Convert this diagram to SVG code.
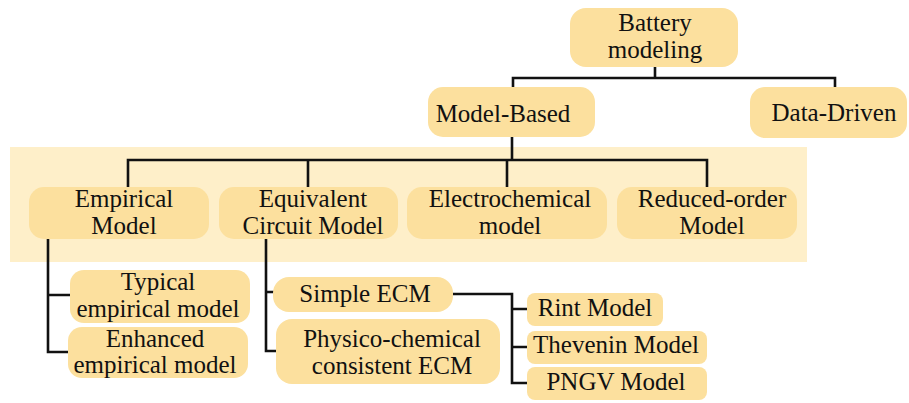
<svg xmlns="http://www.w3.org/2000/svg" width="909" height="403" viewBox="0 0 909 403">
  <style>
    .box { fill: #FCE09E; }
    .band { fill: #FEEFC9; }
    text { font-size: 25px; fill: #111; }
    .wire { fill: none; stroke: #111; stroke-width: 2.6; stroke-linejoin: miter; stroke-linecap: square; }
  </style>

  <!-- shaded band behind the model-based sub-categories -->
  <rect class="band" x="10" y="147" width="797" height="115"/>

  <!-- connectors -->
  <g id="connectors">
    <path class="wire" d="M655 67 V78 M513 87 V78 H835 V87"/>
    <path class="wire" d="M512 137 V160 M128 188 V160 H707 V188 M308 160 V188 M507 160 V188"/>
    <path class="wire" d="M48 239 V352 H68 M48 295 H70"/>
    <path class="wire" d="M266 239 V351 H276 M266 292 H273"/>
    <path class="wire" d="M453 294 H512 V383 H527 M512 309 H527 M512 347 H527"/>
  </g>

  <g text-anchor="middle">
  <g id="battery-modeling">
    <rect class="box" x="570" y="8" width="168" height="59" rx="16"/>
    <text x="655" y="31" style="font-family: 'Liberation Serif'">Battery</text>
    <text x="655" y="58" style="font-family: 'Liberation Serif'">modeling</text>
  </g>

  <g id="model-based">
    <rect class="box" x="428" y="87" width="167" height="50" rx="15"/>
    <text x="503" y="122" style="font-family: 'Liberation Serif'">Model-Based</text>
  </g>

  <g id="data-driven">
    <rect class="box" x="750" y="87" width="157" height="51" rx="15"/>
    <text x="834" y="121" style="font-family: 'Liberation Serif'">Data-Driven</text>
  </g>

  <g id="empirical-model">
    <rect class="box" x="29" y="187" width="180" height="52" rx="15"/>
    <text x="124" y="207" style="font-family: 'Liberation Serif'">Empirical</text>
    <text x="124" y="234" style="font-family: 'Liberation Serif'">Model</text>
  </g>

  <g id="equivalent-circuit-model">
    <rect class="box" x="219" y="187" width="179" height="52" rx="15"/>
    <text x="313" y="207" style="font-family: 'Liberation Serif'">Equivalent</text>
    <text x="313" y="234" style="font-family: 'Liberation Serif'">Circuit Model</text>
  </g>

  <g id="electrochemical-model">
    <rect class="box" x="407" y="187" width="200" height="52" rx="15"/>
    <text x="510" y="207" style="font-family: 'Liberation Serif'">Electrochemical</text>
    <text x="510" y="234" style="font-family: 'Liberation Serif'">model</text>
  </g>

  <g id="reduced-order-model">
    <rect class="box" x="617" y="187" width="180" height="52" rx="15"/>
    <text x="712" y="207" style="font-family: 'Liberation Serif'">Reduced-order</text>
    <text x="712" y="234" style="font-family: 'Liberation Serif'">Model</text>
  </g>

  <g id="typical-empirical-model">
    <rect class="box" x="70" y="270" width="180" height="53" rx="14"/>
    <text x="158" y="290" style="font-family: 'Liberation Serif'">Typical</text>
    <text x="158" y="317" style="font-family: 'Liberation Serif'">empirical model</text>
  </g>

  <g id="enhanced-empirical-model">
    <rect class="box" x="68" y="327" width="180" height="51" rx="14"/>
    <text x="155" y="347" style="font-family: 'Liberation Serif'">Enhanced</text>
    <text x="155" y="373" style="font-family: 'Liberation Serif'">empirical model</text>
  </g>

  <g id="simple-ecm">
    <rect class="box" x="273" y="277" width="180" height="35" rx="16"/>
    <text x="365" y="302" style="font-family: 'Liberation Serif'">Simple ECM</text>
  </g>

  <g id="physico-chemical-ecm">
    <rect class="box" x="276" y="319" width="224" height="65" rx="16"/>
    <text x="392" y="347" style="font-family: 'Liberation Serif'">Physico-chemical</text>
    <text x="392" y="374" style="font-family: 'Liberation Serif'">consistent ECM</text>
  </g>

  <g id="rint-model">
    <rect class="box" x="527" y="293" width="136" height="33" rx="8"/>
    <text x="595" y="316" style="font-family: 'Liberation Serif'">Rint Model</text>
  </g>

  <g id="thevenin-model">
    <rect class="box" x="527" y="331" width="180" height="33" rx="8"/>
    <text x="616" y="353" style="font-family: 'Liberation Serif'">Thevenin Model</text>
  </g>

  <g id="pngv-model">
    <rect class="box" x="527" y="367" width="180" height="33" rx="8"/>
    <text x="616" y="390" style="font-family: 'Liberation Serif'">PNGV Model</text>
  </g>
  </g>
</svg>
